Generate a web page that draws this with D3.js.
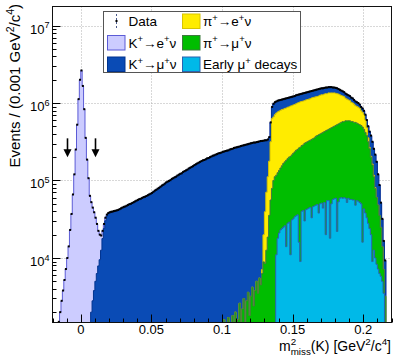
<!DOCTYPE html>
<html>
<head>
<meta charset="utf-8">
<script src="https://cdn.jsdelivr.net/npm/d3@7/dist/d3.min.js"></script>
<style>
  html, body { margin: 0; padding: 0; background: #fff; }
  svg { display: block; font-family: "Liberation Sans", Arial, Helvetica, sans-serif; }
</style>
</head>
<body>
<svg id="chart" width="394" height="356"></svg>
<script>
// histogram bins are 0.001 GeV^2/c^4 wide, bin n covers [n*0.001, (n+1)*0.001)
// every count array below is in thousands of events, starting at bin "...Start"
const binWidth = 0.001;
const xDomain = [-0.02, 0.22];
const yDomain = [1470, 1.76e7];
const xTicks = [0, 0.05, 0.1, 0.15, 0.2];
const xTickLabels = ['0', '0.05', '0.1', '0.15', '0.2'];
const yTicks = [1e4, 1e5, 1e6, 1e7];
const yTickLabels = ['10^{4}', '10^{5}', '10^{6}', '10^{7}'];

// K+ -> e+ nu
const keNuStart = -18;
const keNu = [0.8, 1.07, 1.5, 2.0, 2.8, 3.8, 5.2, 7.2, 10, 14.1, 23, 37, 66, 120, 251, 525, 1122, 1995,
  2630, 1660, 832, 355, 186, 107, 62, 50.5, 41.9, 35.1, 28.1, 21.2, 14.5, 10.5, 6.9, 4.6, 3.5, 2.9,
  1.6, 0.8, 1.0, 0.6, 1.2, 0.5, 0.9, 0.4, 0.7, 0.3, 0.5];

// K+ -> mu+ nu
const kMuNuStart = 6;
const kMuNu = [1.4, 2.0, 2.8, 3.8, 5.0, 6.3, 7.9, 9.5, 12.6, 17.8, 24, 30.2, 34.7, 37.2,
  37.9, 38.8, 38.6, 39.8, 39.8, 40.8, 41.0, 42.4, 43.2,
  44.7, 45.7, 46.2, 47.3, 48.4, 49.5, 50.1, 51.3, 52.5, 53.7, 55.0, 56.2, 57.5, 58.2, 59.6, 61.0,
  61.7, 63.1, 64.6, 66.1, 67.6, 69.2, 71.6, 74.1, 75.9, 78.5, 80.4, 83.2, 86.1, 88.1, 91.2, 94.4,
  96.6, 98.9, 101, 105, 107, 110, 112, 116, 119, 122, 124, 129, 132, 135, 138, 143, 146, 150, 153,
  158, 162, 166, 170, 174, 178, 182, 184, 188, 193, 195, 200, 204, 209, 211, 216, 219, 224, 226, 229,
  234, 235, 240, 243, 243, 251, 254, 255, 263, 264, 268, 270, 272, 278, 280, 282, 287, 289, 291, 297,
  299, 301, 307, 305, 308, 312, 314, 319,
  317, 307, 291, 260, 227, 185, 246, 260,
  316, 315, 306, 305, 299, 292, 287, 290, 284, 287, 280, 284, 277, 279, 272, 275, 282, 274, 276, 268,
  271, 275, 277, 269, 271, 274, 278, 268, 270, 273, 277, 280, 284, 272, 275, 275, 264, 267, 267, 254,
  254, 254, 236, 236, 233, 231, 211, 205, 200, 183, 178, 170, 166, 163, 158, 152, 148, 130, 124, 121,
  119, 104, 97, 92, 86, 105, 124, 146, 160, 175, 153, 140, 135, 114, 72, 52, 27, 18, 9.5, 6.1];

// pi+ -> e+ nu
const piENuStart = 128;
const piENu = [0.8, 11, 31, 58, 93, 142, 260, 552, 561, 596, 624, 641, 650, 659, 667, 666, 677, 679,
  690, 691, 708, 709, 720, 721, 732, 749, 749, 766, 765, 771, 770, 787, 793, 798, 804, 822, 828, 834,
  830, 836, 841, 861, 867, 857, 876, 881, 871, 892, 881, 870, 859, 848, 821, 793, 766, 724, 683, 655,
  627, 559, 533, 507, 483, 448, 425, 404, 361, 352, 344, 326, 281, 269, 251, 186, 99, 39, 10, 5, 5, 5, 2];

// pi+ -> mu+ nu
const piMuNuStart = 100;
const piMuNu = [0, 1.6, 0, 0, 1.7, 0, 0, 1.8, 0, 2.0, 0.5, 1.6, 2.6, 0.8, 2.2, 3.0, 1.2, 2.8, 3.6, 1.8,
  3.2, 4.2, 2.4, 3.8, 5.0, 3.5, 5.5, 4.5,
  6.3, 8.9, 8.5, 12.6, 18.6, 35.5, 56, 79, 100, 112,
  106, 108, 114, 122, 131, 141, 148, 168, 163, 171, 193, 183, 192, 200, 210, 215, 247, 260, 242, 247,
  272, 267, 273, 280, 286, 306, 301, 308, 324, 331, 351, 348, 356, 373, 375, 417, 392, 402, 450, 429,
  433, 443, 454, 503, 484, 491, 502, 516, 515, 530, 537, 530, 532, 518, 519, 506, 514, 495, 483, 473,
  463, 474, 414, 379, 347, 288, 233, 180, 149, 99, 69, 52, 41, 29, 19, 9, 3.6, 3.2];

// early mu+ decays
const earlyMuStart = 138;
const earlyMu = [11, 18, 21, 23, 24, 25, 26, 14, 28, 29, 11, 31, 32, 34, 35, 36, 16, 9, 40, 41, 30, 42,
  43, 44, 45, 33, 46, 47, 48, 49, 38, 50, 51, 44, 52, 20, 55, 55, 18, 50, 57, 58, 59, 22, 53, 59, 60,
  59, 60, 59, 52, 59, 57, 57, 56, 56, 48, 55, 54, 52, 50, 16, 43, 38, 33, 28, 24, 20, 9, 12.6, 10, 8.3,
  7.2, 6.3, 5.8, 5.0, 3.5];

// cut arrows around the K+ -> e+ nu peak
const arrowX = [-0.01, 0.01];
const arrowY = [3.5e5, 2e5];

// stack order, bottom first
const series = [
  { key: 'earlyMu', start: earlyMuStart, counts: earlyMu, label: 'Early μ^{+} decays', fill: '#00b9e8', line: '#2a62b0' },
  { key: 'piMuNu', start: piMuNuStart, counts: piMuNu, label: 'π^{+}→μ^{+}ν', fill: '#00bd00', line: '#3f7a3f' },
  { key: 'piENu', start: piENuStart, counts: piENu, label: 'π^{+}→e^{+}ν', fill: '#ffec00', line: '#d8c400' },
  { key: 'kMuNu', start: kMuNuStart, counts: kMuNu, label: 'K^{+}→μ^{+}ν', fill: '#0a4bb5', line: '#00338f' },
  { key: 'keNu', start: keNuStart, counts: keNu, label: 'K^{+}→e^{+}ν', fill: '#ccccff', line: '#5b5bd6' }
];

const frame = { left: 52.5, right: 391.5, top: 6.5, bottom: 322.5 };
const svg = d3.select('#chart');

const x = d3.scaleLinear().domain(xDomain).range([frame.left, frame.right]);
const y = d3.scaleLog().domain(yDomain).range([frame.bottom, frame.top]).clamp(true);
const yv = v => y(Math.max(v, yDomain[0]));

// text with ^{..} and _{..}; a subscript right after a superscript is stacked under it
function rich(textSel, str, size) {
  const re = /([\^_])(?:\{([^}]*)\}|(.))|([^\^_]+)/g;
  let m, level = 0, prev = null;
  while ((m = re.exec(str))) {
    const mode = m[4] ? 'base' : (m[1] === '^' ? 'sup' : 'sub');
    const t = m[4] || (m[2] !== undefined ? m[2] : m[3]);
    const target = mode === 'sup' ? -0.4 * size : mode === 'sub' ? 0.3 * size : 0;
    const ts = textSel.append('tspan')
      .attr('dy', target - level)
      .attr('font-size', mode === 'base' ? size : size * 0.7)
      .text(t);
    if (mode === 'sub' && prev && prev.mode === 'sup') {
      ts.attr('dx', -prev.node.getComputedTextLength());
    }
    level = target;
    prev = { mode, node: ts.node() };
  }
  return textSel;
}

// table of bins
const firstBin = Math.round(xDomain[0] / binWidth);
const lastBin = Math.round(xDomain[1] / binWidth) - 1;
const table = d3.range(firstBin, lastBin + 1).map(n => {
  const row = { x0: n * binWidth, x1: (n + 1) * binWidth };
  series.forEach(s => {
    const v = s.counts[n - s.start];
    row[s.key] = v === undefined ? 0 : v * 1000;
  });
  return row;
});

const stacked = d3.stack().keys(series.map(s => s.key))(table);

svg.append('defs').append('clipPath').attr('id', 'plot-clip')
  .append('rect')
  .attr('x', frame.left).attr('y', frame.top)
  .attr('width', frame.right - frame.left).attr('height', frame.bottom - frame.top);

// grid
const grid = svg.append('g')
  .attr('stroke', '#b0b0b0').attr('stroke-width', 1).attr('stroke-dasharray', '1,2');
grid.selectAll('line.vx').data(xTicks).join('line')
  .attr('x1', d => Math.round(x(d)) + 0.5).attr('x2', d => Math.round(x(d)) + 0.5)
  .attr('y1', frame.top).attr('y2', frame.bottom);
grid.selectAll('line.hy').data(yTicks).join('line')
  .attr('x1', frame.left).attr('x2', frame.right)
  .attr('y1', d => Math.round(y(d)) + 0.5).attr('y2', d => Math.round(y(d)) + 0.5);

// stacked histograms, each cumulative one filled from the axis, top of stack first
const plot = svg.append('g').attr('clip-path', 'url(#plot-clip)');
const area = d3.area().x(p => x(p[0])).y0(frame.bottom + 1).y1(p => yv(p[1]));
const outline = d3.line().x(p => x(p[0])).y(p => yv(p[1]));

stacked.slice().reverse().forEach(layer => {
  const s = series.find(d => d.key === layer.key);
  const pts = [];
  layer.forEach((d, i) => {
    pts.push([table[i].x0, d[1]], [table[i].x1, d[1]]);
  });
  plot.append('path').attr('d', area(pts)).attr('fill', s.fill);
  plot.append('path').attr('d', outline(pts))
    .attr('fill', 'none').attr('stroke', s.line).attr('stroke-width', 1);
});

// data points (they sit on the stack total at this scale)
const stackTop = stacked[stacked.length - 1];
const dataPts = table.map((row, i) => ({ xc: (row.x0 + row.x1) / 2, v: stackTop[i][1] }))
  .filter(d => d.v > yDomain[0]);
plot.selectAll('rect.data').data(dataPts).join('rect')
  .attr('class', 'data')
  .attr('x', d => x(d.xc) - 1).attr('y', d => y(d.v) - 1)
  .attr('width', 2).attr('height', 2)
  .attr('fill', '#000');

// arrows
const arrows = svg.append('g');
arrowX.forEach(ax => {
  const px = Math.round(x(ax)) + 0.5;
  const y1 = y(arrowY[0]), y2 = y(arrowY[1]);
  arrows.append('line')
    .attr('x1', px).attr('x2', px).attr('y1', y1).attr('y2', y2 - 6)
    .attr('stroke', '#000').attr('stroke-width', 1.6);
  arrows.append('path')
    .attr('d', `M${px - 4},${y2 - 8} L${px + 4},${y2 - 8} L${px},${y2} Z`)
    .attr('fill', '#000');
});

// frame
svg.append('rect')
  .attr('x', frame.left).attr('y', frame.top)
  .attr('width', frame.right - frame.left).attr('height', frame.bottom - frame.top)
  .attr('fill', 'none').attr('stroke', '#111').attr('stroke-width', 1);

// ticks
const ticks = svg.append('g').attr('stroke', '#000').attr('stroke-width', 1);
d3.range(-2, 23).forEach(k => {
  const v = k / 100;
  const major = k % 5 === 0;
  const px = Math.round(x(v)) + 0.5;
  ticks.append('line').attr('x1', px).attr('x2', px)
    .attr('y1', frame.bottom).attr('y2', frame.bottom - (major ? 8 : 4));
});
d3.range(3, 8).forEach(e => {
  d3.range(1, 10).forEach(m => {
    const v = m * Math.pow(10, e);
    if (v < yDomain[0] || v > yDomain[1]) return;
    const py = Math.round(y(v)) + 0.5;
    ticks.append('line').attr('x1', frame.left).attr('x2', frame.left + (m === 1 ? 8 : 4))
      .attr('y1', py).attr('y2', py);
  });
});

// tick labels
svg.selectAll('text.xt').data(xTicks).join('text')
  .attr('class', 'xt')
  .attr('x', d => x(d)).attr('y', 333.5)
  .attr('text-anchor', 'middle').attr('font-size', 13).attr('fill', '#000')
  .text((d, i) => xTickLabels[i]);
yTicks.forEach((v, i) => {
  const t = svg.append('text')
    .attr('x', 49.5).attr('y', y(v) + 8)
    .attr('text-anchor', 'end').attr('fill', '#000');
  rich(t, yTickLabels[i], 13);
});

// axis titles
const xTitle = svg.append('text')
  .attr('x', 391).attr('y', 351)
  .attr('text-anchor', 'end').attr('fill', '#000');
rich(xTitle, 'm^{2}_{miss}(K) [GeV^{2}/c^{4}]', 14);

const yTitle = svg.append('text')
  .attr('transform', 'translate(20,4) rotate(-90)')
  .attr('text-anchor', 'end').attr('fill', '#000');
rich(yTitle, 'Events / (0.001 GeV^{2}/c^{4})', 15);

// legend
const legend = svg.append('g');
legend.append('rect')
  .attr('x', 103.5).attr('y', 11.5).attr('width', 197).attr('height', 61)
  .attr('fill', '#fff').attr('stroke', '#555').attr('stroke-width', 1);

const legendRows = [21, 42.5, 64];
const legendItems = [
  { col: 0, row: 0, data: true, label: 'Data' },
  { col: 0, row: 1, s: series[4] },
  { col: 0, row: 2, s: series[3] },
  { col: 1, row: 0, s: series[2] },
  { col: 1, row: 1, s: series[1] },
  { col: 1, row: 2, s: series[0] }
];
const colX = [107.5, 182.5];
const colText = [128.5, 203];
legendItems.forEach(it => {
  const cy = legendRows[it.row];
  if (it.data) {
    legend.append('line')
      .attr('x1', 116.5).attr('x2', 116.5).attr('y1', cy - 7).attr('y2', cy + 7)
      .attr('stroke', '#4a5a8a').attr('stroke-width', 1).attr('stroke-dasharray', '2,2');
    legend.append('rect').attr('x', 115.5).attr('y', cy - 1).attr('width', 2).attr('height', 2)
      .attr('fill', '#000');
  } else {
    legend.append('rect')
      .attr('x', colX[it.col]).attr('y', cy - 7).attr('width', 17.5).attr('height', 14.5)
      .attr('fill', it.s.fill).attr('stroke', it.s.line).attr('stroke-width', 1);
  }
  const t = legend.append('text')
    .attr('x', colText[it.col]).attr('y', cy + 5)
    .attr('fill', '#000');
  rich(t, it.data ? it.label : it.s.label, 13.5);
});
</script>
</body>
</html>
